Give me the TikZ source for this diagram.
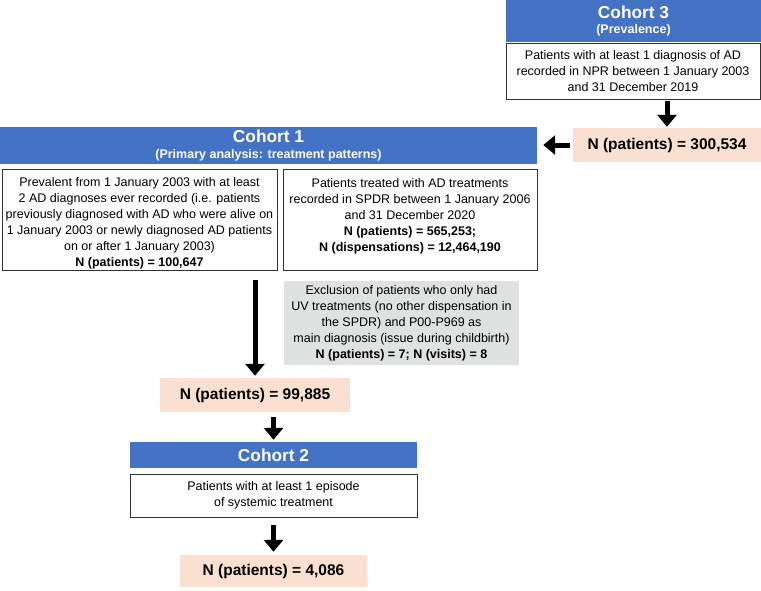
\documentclass[tikz,border=0pt]{standalone}
\usepackage{fontspec}
\setmainfont{Liberation Sans}
\usepackage{xcolor}
\usetikzlibrary{arrows.meta}
\definecolor{headblue}{HTML}{4472C4}
\definecolor{countpeach}{HTML}{FAE0D0}
\definecolor{exclgrey}{HTML}{E0E1E1}

\begin{document}
\begin{tikzpicture}[x=1pt,y=-1pt,
    head/.style={fill=headblue,text=white,align=center,inner sep=0pt,font=\bfseries\fontsize{12.5}{15.5}\selectfont},
    desc/.style={draw=black!80,line width=0.8pt,fill=white,align=center,inner sep=0pt,font=\fontsize{12.5}{16}\selectfont},
    excl/.style={fill=exclgrey,align=center,inner sep=0pt,font=\fontsize{12.5}{16}\selectfont},
    count/.style={fill=countpeach,inner sep=0pt,font=\bfseries\fontsize{15.5}{18}\selectfont},
    flow/.style={line width=5pt,-{Triangle[width=19pt,length=12pt]}}]
    \useasboundingbox (0,0) rectangle (761,590);
    \node (c3head) at (633.5,21) [head,minimum width=255pt,minimum height=42pt] {{\fontsize{17.3}{15.5}\selectfont Cohort 3}\\(Prevalence)};
    \node (c3text) at (633,71) [desc,minimum width=254pt,minimum height=56pt] {Patients with at least 1 diagnosis of AD\\recorded in NPR between 1 January 2003\\and 31 December 2019};
    \node (n3) at (667,145) [count,minimum width=188pt,minimum height=34pt] {N (patients) = 300,534};
    \node (c1head) at (268.5,145.5) [head,minimum width=537pt,minimum height=37pt] {{\fontsize{17.3}{15.5}\selectfont Cohort 1}\\(Primary analysis: treatment patterns)};
    \node (prevbox) at (139.5,219.5) [desc,minimum width=275pt,minimum height=101pt] {\rule{0pt}{17pt}Prevalent from 1 January 2003 with at least\\2 AD diagnoses ever recorded (i.e. patients\\previously diagnosed with AD who were alive on\\1 January 2003 or newly diagnosed AD patients\\on or after 1 January 2003)\\\textbf{N (patients) = 100,647}};
    \node (spdrbox) at (410,219.5) [desc,minimum width=254pt,minimum height=101pt] {Patients treated with AD treatments\\recorded in SPDR between 1 January 2006\\and 31 December 2020\\\textbf{N (patients) = 565,253;}\\\textbf{N (dispensations) = 12,464,190}\rule[-9pt]{0pt}{9pt}};
    \node (exclbox) at (401.5,323) [excl,minimum width=235pt,minimum height=84pt] {Exclusion of patients who only had\\UV treatments (no other dispensation in\\the SPDR) and P00-P969 as\\main diagnosis (issue during childbirth)\\\textbf{N (patients) = 7; N (visits) = 8}};
    \node (n1) at (255,395) [count,minimum width=190pt,minimum height=34pt] {N (patients) = 99,885};
    \node (c2head) at (273.5,455) [head,minimum width=287pt,minimum height=26pt] {{\fontsize{17.3}{15.5}\selectfont Cohort 2}};
    \node (c2text) at (273.5,495.5) [desc,minimum width=287pt,minimum height=43pt] {Patients with at least 1 episode\\of systemic treatment};
    \node (n2) at (273.5,571) [count,minimum width=187pt,minimum height=32pt] {N (patients) = 4,086};
    \draw [flow,shorten <=2pt,shorten >=1pt] (c3text.south -| n3) -- (n3.north);
    \draw [flow,shorten <=3pt,shorten >=6pt] (n3.west) -- (n3.west -| c1head.east);
    \draw [flow,shorten <=10pt,shorten >=2pt] (prevbox.south -| n1) -- (n1.north);
    \draw [flow,shorten <=5pt,shorten >=2pt] (n1.south -| c2head) -- (c2head.north);
    \draw [flow,shorten <=8pt,shorten >=3pt] (c2text.south) -- (n2.north);
\end{tikzpicture}
\end{document}
